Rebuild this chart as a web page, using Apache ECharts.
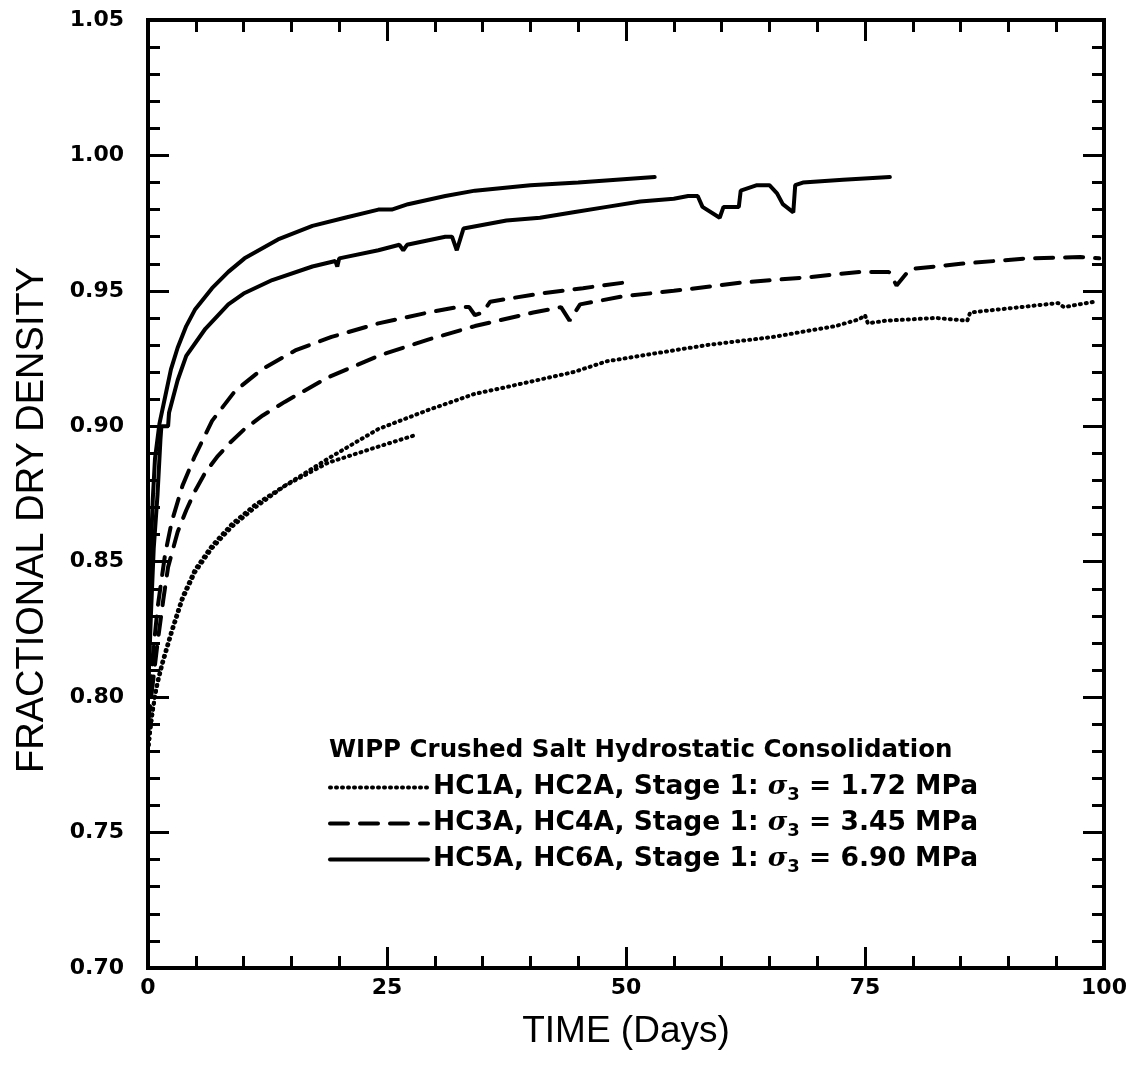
<!DOCTYPE html>
<html><head><meta charset="utf-8">
<script src="https://cdn.jsdelivr.net/npm/echarts@6/dist/echarts.min.js"></script>
<style>html,body{margin:0;padding:0;background:#fff}#c{width:1138px;height:1070px}</style>
</head><body><div id="c"></div>
<script>
// ---- data (time in days, fractional dry density) ----
const xTicks = [0, 25, 50, 75, 100];
const yTicks = [0.70, 0.75, 0.80, 0.85, 0.90, 0.95, 1.00, 1.05];

const legendTitle = 'WIPP Crushed Salt Hydrostatic Consolidation';
const groupNames = [
  'HC1A, HC2A, Stage 1: σ3 = 1.72 MPa',
  'HC3A, HC4A, Stage 1: σ3 = 3.45 MPa',
  'HC5A, HC6A, Stage 1: σ3 = 6.90 MPa'
];

// 1.72 MPa (dotted)
const hc1a = [[0,0.780],[0.3,0.790],[0.7,0.800],[1.0,0.806],[1.5,0.813],[2.5,0.825],[3.6,0.837],[4.9,0.847],[6.7,0.856],[8.8,0.864],[11.2,0.871],[14.3,0.878],[18.8,0.8865],[24.1,0.8925],[28.2,0.897]];
const hc2a = [[0,0.780],[0.3,0.790],[0.7,0.800],[1.0,0.805],[1.5,0.812],[2.5,0.824],[3.6,0.836],[4.9,0.846],[6.7,0.855],[8.8,0.863],[11.2,0.870],[14.3,0.878],[18.8,0.888],[24.1,0.899],[29.3,0.906],[34.2,0.912],[37.5,0.9145],[44.5,0.920],[48,0.924],[53.2,0.927],[58.5,0.930],[65.4,0.933],[71.9,0.937],[74.4,0.9395],[75,0.941],[75.3,0.938],[77.2,0.939],[82.4,0.940],[85.7,0.939],[86,0.942],[91.3,0.944],[95.2,0.9455],[95.8,0.944],[99,0.946]];

// 3.45 MPa (dashed)
const hc3a = [[0,0.790],[0.5,0.815],[1.0,0.833],[1.8,0.853],[2.5,0.865],[3.6,0.878],[4.9,0.889],[6.7,0.902],[9.1,0.913],[11.9,0.921],[15.4,0.928],[19.2,0.933],[24.1,0.938],[29.3,0.942],[32.4,0.944],[33.6,0.944],[34.2,0.941],[35.0,0.942],[35.8,0.946],[41,0.949],[45.5,0.951],[49.7,0.953]];
const hc4a = [[0,0.790],[0.5,0.805],[1.0,0.820],[1.6,0.836],[2.1,0.848],[3.1,0.861],[4.0,0.869],[4.9,0.876],[6.0,0.883],[7.3,0.889],[8.6,0.894],[10.1,0.899],[12,0.904],[14.3,0.909],[18.8,0.918],[24.1,0.926],[29.3,0.932],[34.2,0.937],[40.3,0.942],[43.2,0.944],[44.1,0.939],[45.2,0.945],[49.7,0.948],[55,0.950],[62,0.953],[65.4,0.954],[69,0.955],[74.5,0.957],[77.5,0.957],[78.3,0.952],[79.7,0.958],[85,0.960],[92,0.962],[97.5,0.9625],[99.5,0.962]];

// 6.90 MPa (solid)
const hc5a = [[0,0.800],[0.15,0.830],[0.3,0.855],[0.5,0.873],[0.73,0.888],[1.2,0.901],[1.8,0.911],[2.4,0.921],[3.1,0.929],[4.0,0.937],[4.9,0.943],[6.7,0.951],[8.4,0.957],[10.1,0.962],[13.6,0.969],[17.2,0.974],[20.6,0.977],[24.1,0.980],[25.5,0.980],[27.2,0.982],[31.1,0.985],[34.2,0.987],[40,0.989],[45,0.990],[49,0.991],[53,0.992]];
const hc6a = [[0,0.800],[0.3,0.830],[0.6,0.855],[1.0,0.875],[1.3,0.895],[1.4,0.900],[2.1,0.900],[2.2,0.905],[3.1,0.917],[4.0,0.926],[6.0,0.936],[8.4,0.945],[10,0.949],[13,0.954],[17.2,0.959],[19.6,0.961],[19.8,0.959],[20.0,0.962],[24.1,0.965],[26.3,0.967],[26.7,0.965],[27.1,0.967],[31.1,0.970],[31.8,0.970],[32.3,0.965],[33.0,0.973],[37.5,0.976],[41,0.977],[44.5,0.979],[48,0.981],[51.5,0.983],[55,0.984],[56.5,0.985],[57.5,0.985],[58,0.981],[59.8,0.977],[60.2,0.981],[61.8,0.981],[62,0.987],[63.7,0.989],[65,0.989],[65.8,0.986],[66.4,0.982],[67.5,0.979],[67.7,0.989],[68.5,0.990],[72.7,0.991],[77.6,0.992]];

// ---- chart ----
const DOT = {type:[1,5], cap:'round', width:4, color:'#000'};
const DASH = {type:[18,12], cap:'round', width:4, color:'#000'};
const SOLID = {type:'solid', cap:'round', width:4, color:'#000'};

function mk(name, data, ls){
  return {type:'line', name:name, data:data, symbol:'none', showSymbol:false,
          lineStyle:ls, itemStyle:{color:'#000'}, animation:false, clip:true, z:3};
}
const labelFont = {fontFamily:'DejaVu Sans', fontWeight:'bold', fontSize:22, color:'#000'};
const tickCfg = {show:true, inside:true, length:21, lineStyle:{color:'#000', width:3}};
const minorCfg = {show:true, splitNumber:5, length:12, lineStyle:{color:'#000', width:3}};
const lineCfg = {show:true, onZero:false, lineStyle:{color:'#000', width:4}};

const chart = echarts.init(document.getElementById('c'), null, {renderer:'canvas'});
chart.setOption({
  backgroundColor:'#fff',
  animation:false,
  grid:{left:148, right:34, top:20, bottom:102, show:true, borderColor:'#000', borderWidth:4},
  title:{text:legendTitle, left:324, top:733,
         textStyle:{fontFamily:'DejaVu Sans', fontWeight:'bold', fontSize:24.5, color:'#000'}},
  legend:{orient:'vertical', left:323, top:766, itemWidth:98, itemHeight:14, itemGap:3,
          data:groupNames, selectedMode:false, itemStyle:{opacity:0},
          lineStyle:{width:4, color:'#000'},
          formatter:function(n){
            const i = n.indexOf('σ3');
            return '{t|' + n.slice(0,i) + '}{g|σ}{s|3}{t|' + n.slice(i+2) + '}';
          },
          textStyle:{color:'#000', fontFamily:'DejaVu Sans', fontWeight:'bold', fontSize:26.5,
            rich:{
              t:{fontFamily:'DejaVu Sans', fontWeight:'bold', fontSize:26.5, lineHeight:30, color:'#000'},
              g:{fontFamily:'DejaVu Serif', fontStyle:'italic', fontWeight:'bold', fontSize:26.5, lineHeight:30, color:'#000'},
              s:{fontFamily:'DejaVu Sans', fontWeight:'bold', fontSize:18, lineHeight:30, padding:[15,0,0,0], color:'#000'}
            }}},
  xAxis:[
    {type:'value', min:xTicks[0], max:xTicks[xTicks.length-1], interval:25, position:'bottom',
     name:'TIME (Days)', nameLocation:'middle', nameGap:45,
     nameTextStyle:{fontFamily:'Liberation Sans', fontSize:37, color:'#000'},
     axisLine:lineCfg, axisTick:tickCfg, minorTick:minorCfg, splitLine:{show:false},
     axisLabel:Object.assign({margin:9, formatter:v=>String(v)}, labelFont)},
    {type:'value', min:xTicks[0], max:xTicks[xTicks.length-1], interval:25, position:'top',
     axisLine:lineCfg, axisTick:tickCfg, minorTick:minorCfg, splitLine:{show:false},
     axisLabel:{show:false}}
  ],
  yAxis:[
    {type:'value', min:yTicks[0], max:yTicks[yTicks.length-1], interval:0.05, position:'left',
     name:'FRACTIONAL DRY DENSITY', nameLocation:'middle', nameGap:96,
     nameTextStyle:{fontFamily:'Liberation Sans', fontSize:38, color:'#000', padding:[0,52,0,0]},
     axisLine:lineCfg, axisTick:tickCfg, minorTick:minorCfg, splitLine:{show:false},
     axisLabel:Object.assign({margin:24, formatter:v=>v.toFixed(2)}, labelFont)},
    {type:'value', min:yTicks[0], max:yTicks[yTicks.length-1], interval:0.05, position:'right',
     axisLine:lineCfg, axisTick:tickCfg, minorTick:minorCfg, splitLine:{show:false},
     axisLabel:{show:false}}
  ],
  series:[
    mk(groupNames[0], hc1a, DOT),
    mk(groupNames[0], hc2a, DOT),
    mk(groupNames[1], hc3a, DASH),
    mk(groupNames[1], hc4a, DASH),
    mk(groupNames[2], hc5a, SOLID),
    mk(groupNames[2], hc6a, SOLID)
  ]
});
</script></body></html>
